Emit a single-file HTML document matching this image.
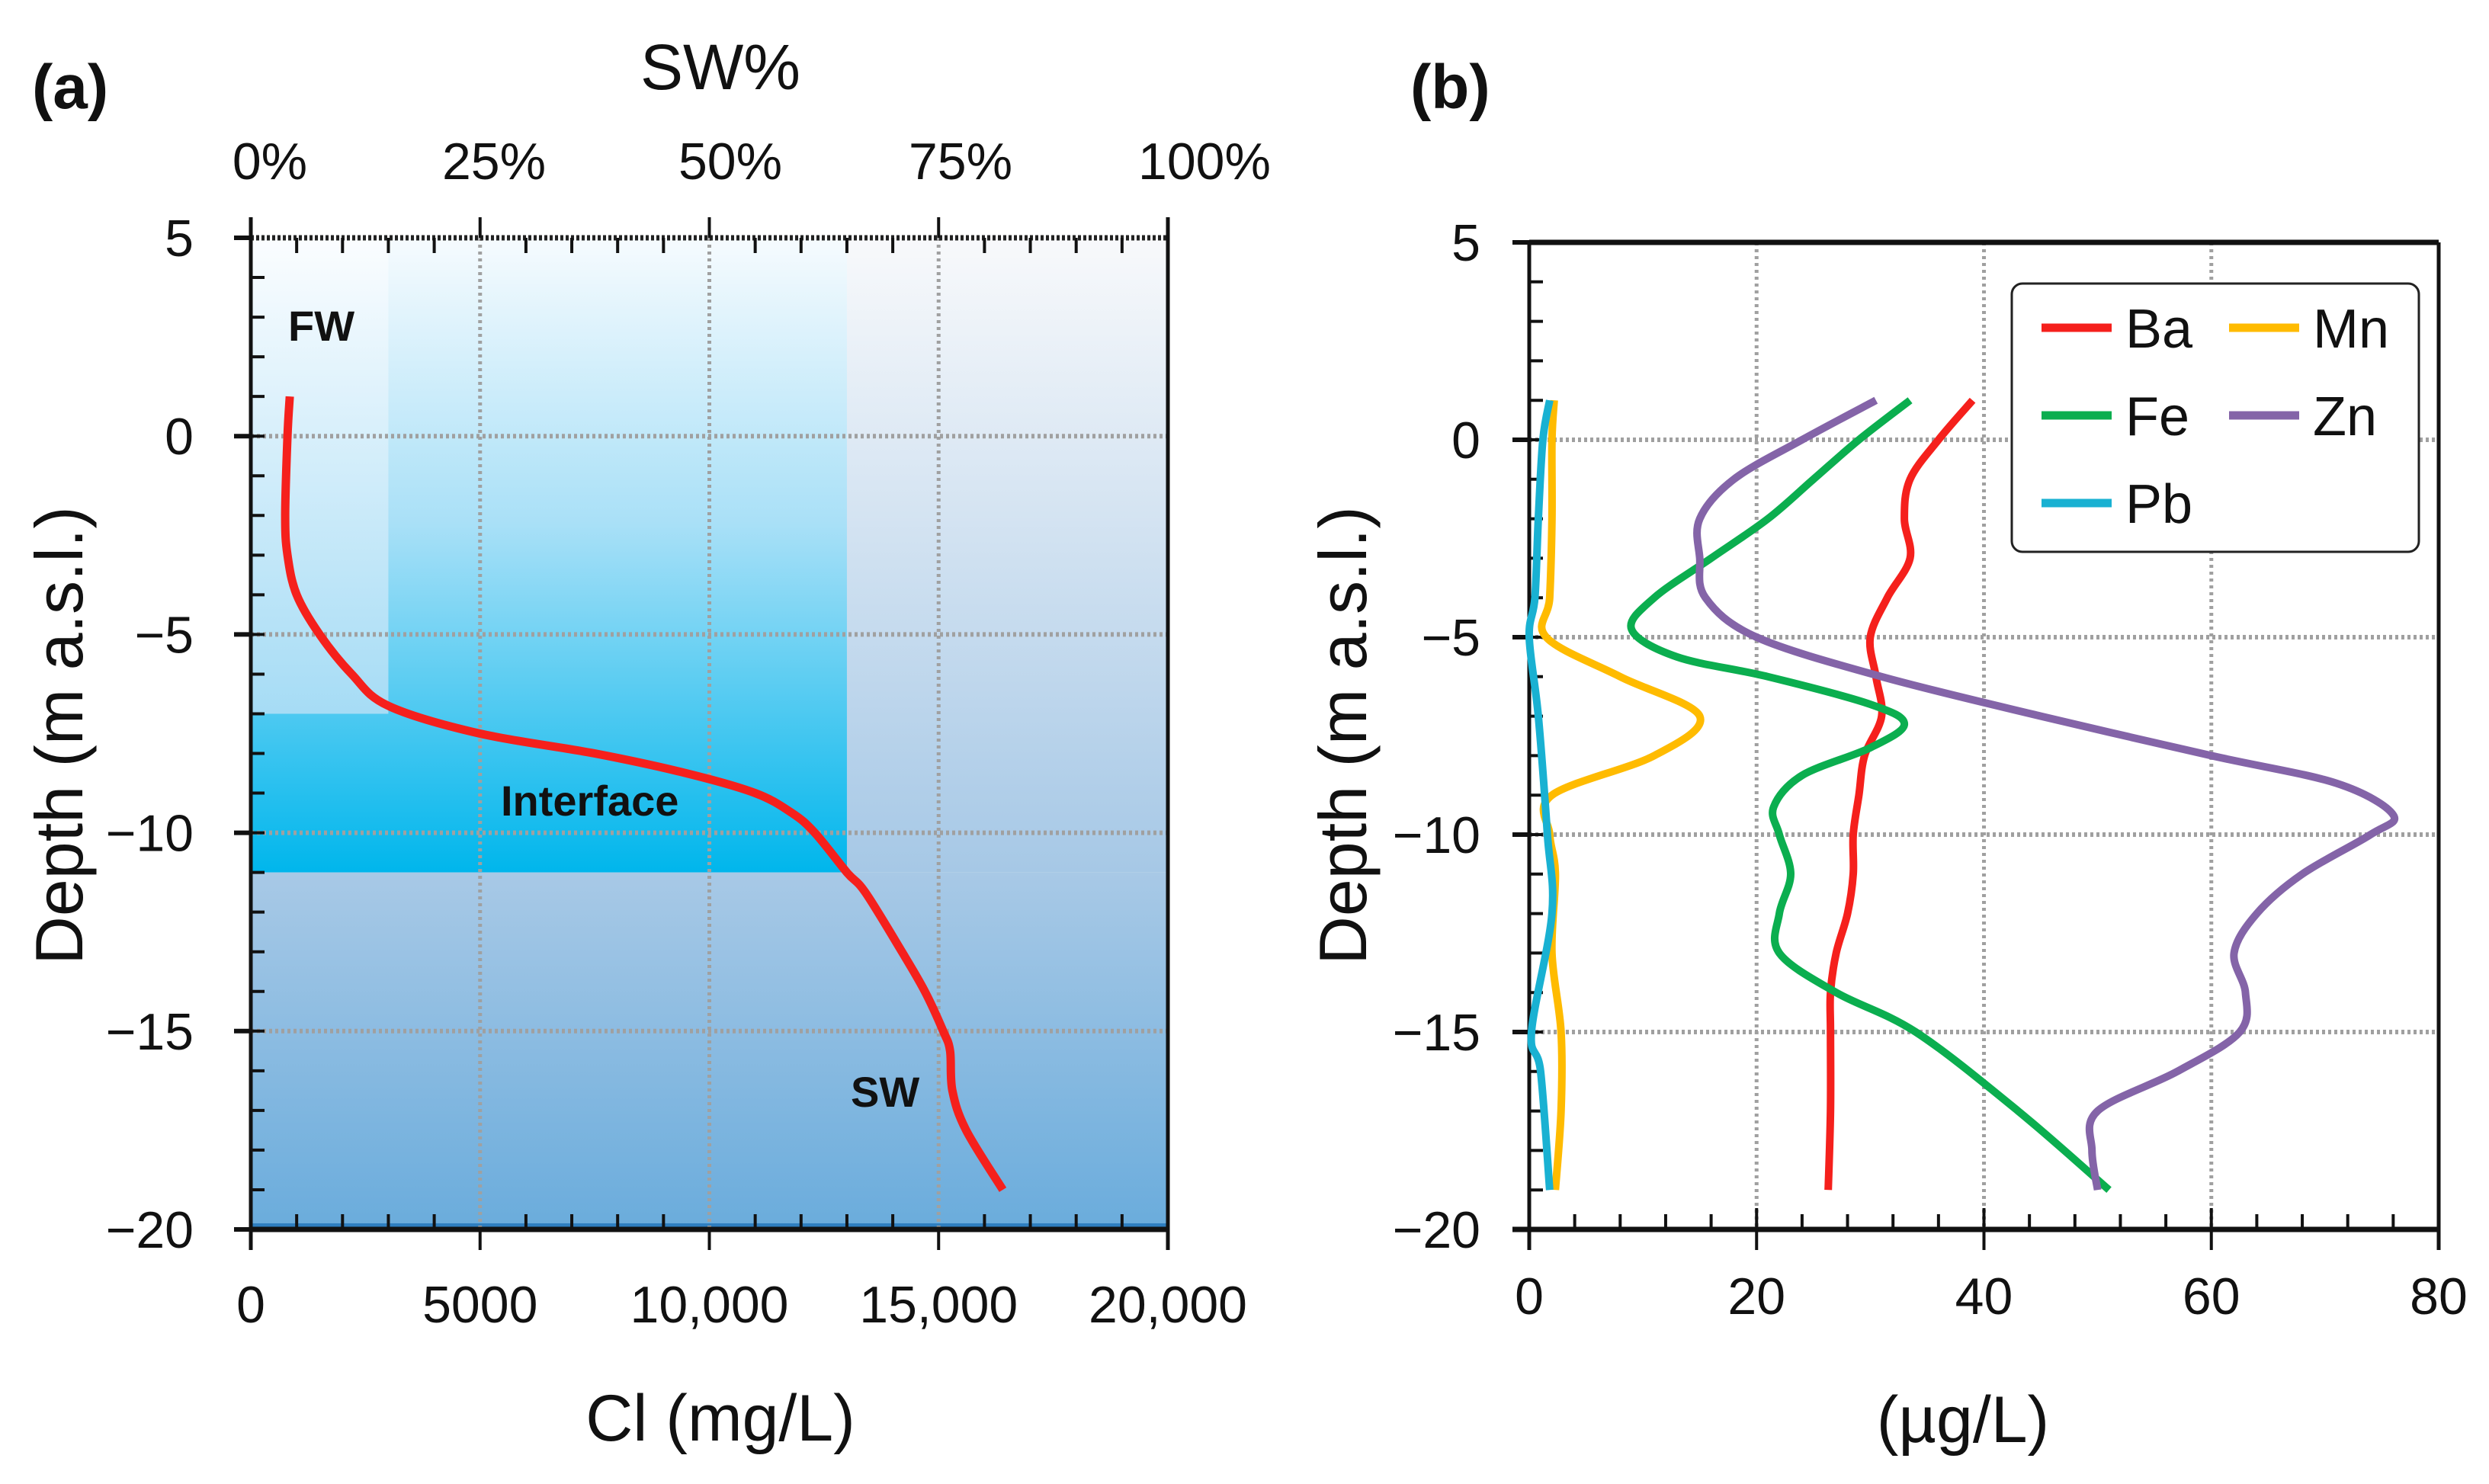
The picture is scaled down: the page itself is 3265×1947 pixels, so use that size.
<!DOCTYPE html>
<html><head><meta charset="utf-8">
<style>
html,body{margin:0;padding:0;background:#fff;}
svg{display:block;}
text{font-family:"Liberation Sans",sans-serif;fill:#111;}
</style></head>
<body>
<svg id="chart" width="3265" height="1947" viewBox="0 0 3265 1947" xmlns="http://www.w3.org/2000/svg">
<defs>
<linearGradient id="gSW" x1="0" y1="0" x2="0" y2="1"><stop offset="0" stop-color="#f8f9fb"/><stop offset="1" stop-color="#a6c8e6"/></linearGradient>
<linearGradient id="gInt" x1="0" y1="0" x2="0" y2="1"><stop offset="0" stop-color="#f6fbfe"/><stop offset="0.45" stop-color="#a9e0f7"/><stop offset="1" stop-color="#00b6ec"/></linearGradient>
<linearGradient id="gFW" x1="0" y1="0" x2="0" y2="1"><stop offset="0" stop-color="#fbfdff"/><stop offset="1" stop-color="#a6dcf5"/></linearGradient>
<linearGradient id="gLow" x1="0" y1="0" x2="0" y2="1"><stop offset="0" stop-color="#a8c9e6"/><stop offset="1" stop-color="#6aacdc"/></linearGradient>
</defs>
<g id="pa"></g>
<g id="pb"></g>
</svg>
<script>
// Panel (a) data
const clDepth = [1,0,-2,-3,-4,-5,-6,-6.8,-7.5,-8,-8.5,-9,-9.5,-10,-11,-11.5,-13,-14,-15,-15.5,-16.5,-17.5,-19];
const clValue = [850,800,750,800,1000,1500,2200,3000,5000,7500,9500,11000,11800,12300,13000,13400,14200,14700,15100,15250,15300,15600,16400];
const clTicks = [0,5000,10000,15000,20000];
const clTickLabels = ["0","5000","10,000","15,000","20,000"];
const swTickLabels = ["0%","25%","50%","75%","100%"];
const depthTicks = [5,0,-5,-10,-15,-20];
const depthTickLabels = ["5","0","\u22125","\u221210","\u221215","\u221220"];
// Panel (b) data
const bTicks = [0,20,40,60,80];
const baDepth = [1,0,-1,-2,-3,-4,-5,-6,-7,-8,-9,-10,-11,-12,-13,-14,-15,-17,-19];
const baValue = [39,36,33.5,33,33.5,31.5,30,30.5,31,29.5,29,28.5,28.5,28,27,26.5,26.5,26.5,26.3];
const feDepth = [1,0,-1,-2,-3,-4,-4.8,-5.5,-6,-6.7,-7.2,-7.8,-8.5,-9.3,-10,-11,-12,-13,-14,-15,-17,-19];
const feValue = [33.5,29,25,21,16,11,9,13,21,30,33,30,24,21.5,22,23,22,22,27,34,43,51];
const znDepth = [1,0,-1,-2,-3,-4,-5,-6,-7,-8,-8.7,-9.5,-10,-11,-12,-13,-14,-15,-16,-17,-18,-19];
const znValue = [30.5,24,18,15,15,15.5,20,31,45,60,71,76,74,68,64,62,63,62.5,57,50,49.5,50];
const mnDepth = [1,0,-2,-4,-5,-6,-7,-8,-9,-10,-11,-13,-15,-17,-19];
const mnValue = [2.2,2,2,1.8,1.5,8,15,11,2,1.8,2.3,2,2.8,2.8,2.3];
const pbDepth = [1,0,-2,-4,-5,-7,-10,-12,-15,-16,-19];
const pbValue = [1.8,1.2,0.8,0.5,0,0.8,1.6,2,0.2,1,1.8];

const NS="http://www.w3.org/2000/svg";
function mk(parent,tag,attrs){const e=document.createElementNS(NS,tag);for(const k in attrs)e.setAttribute(k,attrs[k]);parent.appendChild(e);return e;}
function smooth(pts){let d="M"+pts[0][0]+","+pts[0][1];for(let i=0;i<pts.length-1;i++){const p0=pts[i-1]||pts[i],p1=pts[i],p2=pts[i+1],p3=pts[i+2]||p2;const c1x=p1[0]+(p2[0]-p0[0])/6,c1y=p1[1]+(p2[1]-p0[1])/6,c2x=p2[0]-(p3[0]-p1[0])/6,c2y=p2[1]-(p3[1]-p1[1])/6;d+=" C"+c1x+","+c1y+" "+c2x+","+c2y+" "+p2[0]+","+p2[1];}return d;}

const TF=68; // tick font
// ---------- Panel A ----------
const pa=document.getElementById('pa');
const A={l:329,r:1532,t:312,b:1613};
const ax=v=>A.l+(v/20000)*(A.r-A.l);
const ay=v=>A.t+(5-v)/25*(A.b-A.t);
let e;
e=mk(pa,'rect',{x:A.l,y:A.t,width:A.r-A.l,height:ay(-11)-A.t,fill:'url(#gSW)'});

e=mk(pa,'rect',{x:A.l,y:A.t,width:ax(13000)-A.l,height:ay(-11)-A.t,fill:'url(#gInt)'});

e=mk(pa,'rect',{x:A.l,y:A.t,width:ax(3000)-A.l,height:ay(-7)-A.t,fill:'url(#gFW)'});

e=mk(pa,'rect',{x:A.l,y:ay(-11),width:A.r-A.l,height:A.b-ay(-11),fill:'url(#gLow)'});

mk(pa,'rect',{x:A.l,y:A.b-8,width:A.r-A.l,height:8,fill:'#2f7fc0'});
// grid
[5000,10000,15000].forEach(v=>{e=mk(pa,'line',{x1:ax(v),x2:ax(v),y1:A.t,y2:A.b,stroke:'#a0a0a0','stroke-width':5,'stroke-dasharray':'4 5'});});
[0,-5,-10,-15].forEach(v=>{e=mk(pa,'line',{x1:A.l,x2:A.r,y1:ay(v),y2:ay(v),stroke:'#a0a0a0','stroke-width':6,'stroke-dasharray':'4 4'});});
// axes
mk(pa,'line',{x1:A.l,x2:A.r,y1:A.t,y2:A.t,stroke:'#222','stroke-width':7,'stroke-dasharray':'4 3'});
mk(pa,'line',{x1:A.l,x2:A.r+2,y1:A.b,y2:A.b,stroke:'#111','stroke-width':7});
mk(pa,'line',{x1:A.l,x2:A.l,y1:A.t-27,y2:A.b+27,stroke:'#111','stroke-width':5});
mk(pa,'line',{x1:A.r,x2:A.r,y1:A.t-27,y2:A.b+27,stroke:'#111','stroke-width':5});
for(let v=1000;v<20000;v+=1000){ if(v%5000){mk(pa,'line',{x1:ax(v),x2:ax(v),y1:A.t,y2:A.t+20,stroke:'#111','stroke-width':4});mk(pa,'line',{x1:ax(v),x2:ax(v),y1:A.b,y2:A.b-20,stroke:'#111','stroke-width':4});}}
clTicks.forEach(v=>{mk(pa,'line',{x1:ax(v),x2:ax(v),y1:A.t-27,y2:A.t,stroke:'#111','stroke-width':4});mk(pa,'line',{x1:ax(v),x2:ax(v),y1:A.b,y2:A.b+27,stroke:'#111','stroke-width':4});});
for(let v=4;v>-20;v--){mk(pa,'line',{x1:A.l,x2:A.l+18,y1:ay(v),y2:ay(v),stroke:'#111','stroke-width':4});}
depthTicks.forEach(v=>mk(pa,'line',{x1:A.l-22,x2:A.l,y1:ay(v),y2:ay(v),stroke:'#111','stroke-width':6}));
// labels
depthTicks.forEach((v,i)=>{e=mk(pa,'text',{x:254,y:ay(v)+24,'font-size':TF,'text-anchor':'end'});e.textContent=depthTickLabels[i];});
clTicks.forEach((v,i)=>{e=mk(pa,'text',{x:ax(v),y:1735,'font-size':TF,'text-anchor':'middle'});e.textContent=clTickLabels[i];});
const swX=[354,648,958,1260,1580];
swTickLabels.forEach((s,i)=>{e=mk(pa,'text',{x:swX[i],y:235,'font-size':TF,'text-anchor':'middle'});e.textContent=s;});
e=mk(pa,'text',{x:945,y:117,'font-size':84,'text-anchor':'middle'});e.textContent='SW%';
e=mk(pa,'text',{x:945,y:1890,'font-size':86,'text-anchor':'middle'});e.textContent='Cl (mg/L)';
e=mk(pa,'text',{x:0,y:0,'font-size':88,'text-anchor':'middle',transform:'translate(108,965) rotate(-90)'});e.textContent='Depth (m a.s.l.)';
e=mk(pa,'text',{x:42,y:142,'font-size':82,'font-weight':'bold'});e.textContent='(a)';
e=mk(pa,'text',{x:378,y:447,'font-size':56,'font-weight':'bold'});e.textContent='FW';
e=mk(pa,'text',{x:657,y:1070,'font-size':56,'font-weight':'bold'});e.textContent='Interface';
e=mk(pa,'text',{x:1116,y:1452,'font-size':56,'font-weight':'bold'});e.textContent='SW';
e=mk(pa,'path',{d:smooth(clDepth.map((d,i)=>[ax(clValue[i]),ay(d)])),fill:'none',stroke:'#f5201c','stroke-width':11,'stroke-linejoin':'round'});


// ---------- Panel B ----------
const pb=document.getElementById('pb');
const B={l:2006,r:3199,t:318,b:1613};
const bx=v=>B.l+(v/80)*(B.r-B.l);
const by=v=>B.t+(5-v)/25*(B.b-B.t);
[20,40,60].forEach(v=>{e=mk(pb,'line',{x1:bx(v),x2:bx(v),y1:B.t,y2:B.b,stroke:'#a0a0a0','stroke-width':5,'stroke-dasharray':'4 5'});});
[0,-5,-10,-15].forEach(v=>{e=mk(pb,'line',{x1:B.l,x2:B.r,y1:by(v),y2:by(v),stroke:'#a0a0a0','stroke-width':6,'stroke-dasharray':'4 4'});});
mk(pb,'line',{x1:B.l,x2:B.r,y1:B.t,y2:B.t,stroke:'#111','stroke-width':7});
mk(pb,'line',{x1:B.l-22,x2:B.r,y1:B.b,y2:B.b,stroke:'#111','stroke-width':7});
mk(pb,'line',{x1:B.l,x2:B.l,y1:B.t,y2:B.b+27,stroke:'#111','stroke-width':5});
mk(pb,'line',{x1:B.r,x2:B.r,y1:B.t,y2:B.b+27,stroke:'#111','stroke-width':5});
for(let v=4;v<80;v+=4){if(v%20)mk(pb,'line',{x1:bx(v),x2:bx(v),y1:B.b,y2:B.b-20,stroke:'#111','stroke-width':4});}
bTicks.forEach(v=>mk(pb,'line',{x1:bx(v),x2:bx(v),y1:B.b-28,y2:B.b+27,stroke:'#111','stroke-width':4}));
for(let v=4;v>-20;v--){mk(pb,'line',{x1:B.l,x2:B.l+18,y1:by(v),y2:by(v),stroke:'#111','stroke-width':4});}
depthTicks.forEach(v=>mk(pb,'line',{x1:B.l-22,x2:B.l,y1:by(v),y2:by(v),stroke:'#111','stroke-width':6}));
depthTicks.forEach((v,i)=>{e=mk(pb,'text',{x:1942,y:by(v)+24,'font-size':TF,'text-anchor':'end'});e.textContent=depthTickLabels[i];});
bTicks.forEach(v=>{e=mk(pb,'text',{x:bx(v),y:1724,'font-size':TF,'text-anchor':'middle'});e.textContent=String(v);});
e=mk(pb,'text',{x:2575,y:1892,'font-size':86,'text-anchor':'middle'});e.textContent='(\u00b5g/L)';
e=mk(pb,'text',{x:0,y:0,'font-size':88,'text-anchor':'middle',transform:'translate(1792,965) rotate(-90)'});e.textContent='Depth (m a.s.l.)';
e=mk(pb,'text',{x:1850,y:142,'font-size':82,'font-weight':'bold'});e.textContent='(b)';
const series=[['mn',mnDepth,mnValue,'#ffbb00'],['pb',pbDepth,pbValue,'#19b1d2'],['ba',baDepth,baValue,'#f5201c'],['fe',feDepth,feValue,'#0bae4f'],['zn',znDepth,znValue,'#8464a8']];
series.forEach(s=>{e=mk(pb,'path',{d:smooth(s[1].map((d,i)=>[bx(s[2][i]),by(d)])),fill:'none',stroke:s[3],'stroke-width':10,'stroke-linejoin':'round'});

});
// legend
const lg=mk(pb,'g',{});

mk(lg,'rect',{x:2639,y:372,width:534,height:352,rx:14,fill:'#fff',stroke:'#222','stroke-width':3});
const leg=[['Ba','#f5201c',2678,430],['Mn','#ffbb00',2924,430],['Fe','#0bae4f',2678,545],['Zn','#8464a8',2924,545],['Pb','#19b1d2',2678,660]];
leg.forEach(L=>{const g=mk(lg,'g',{});
mk(g,'line',{x1:L[2],x2:L[2]+92,y1:L[3],y2:L[3],stroke:L[1],'stroke-width':11});
const t=mk(g,'text',{x:L[2]+110,y:L[3]+26,'font-size':72});t.textContent=L[0];});
</script>
</body></html>
